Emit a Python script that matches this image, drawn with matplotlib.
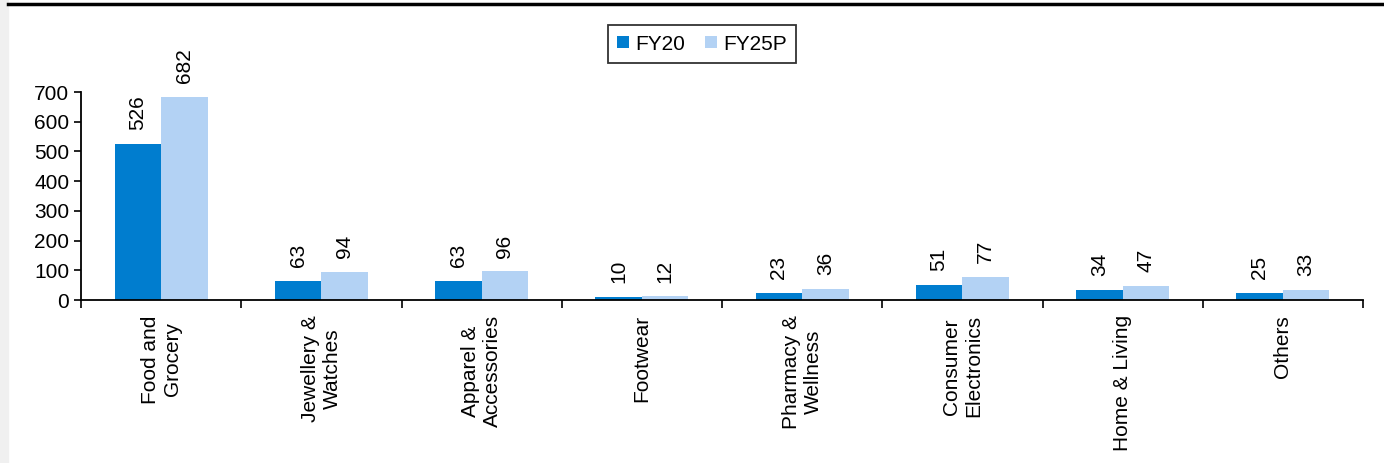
import matplotlib.pyplot as plt
import numpy as np
from matplotlib.lines import Line2D
from matplotlib.patches import Rectangle

plt.rcParams['font.family'] = ['Liberation Sans', 'DejaVu Sans']

categories = ['Food and\nGrocery', 'Jewellery &\nWatches', 'Apparel &\nAccessories', 'Footwear',
              'Pharmacy &\nWellness', 'Consumer\nElectronics', 'Home & Living', 'Others']
fy20 = [526, 63, 63, 10, 23, 51, 34, 25]
fy25p = [682, 94, 96, 12, 36, 77, 47, 33]
yticks = [0, 100, 200, 300, 400, 500, 600, 700]

dark = '#007DCF'
light = '#B3D2F4'
fs = 15

fig = plt.figure(figsize=(13.84, 4.63), dpi=100)
ax = fig.add_axes([81/1384, 1 - 300/463, (1363 - 81)/1384, 208/463])

x = np.arange(len(categories))
w = 0.29
b1 = ax.bar(x - w/2, fy20, w, color=dark, label='FY20')
b2 = ax.bar(x + w/2, fy25p, w, color=light, label='FY25P')

for bars, vals in [(b1, fy20), (b2, fy25p)]:
    for r, v in zip(bars, vals):
        ax.annotate(str(v), (r.get_x() + r.get_width()/2, v), xytext=(0, 10),
                    textcoords='offset points', rotation=90, ha='center', va='bottom',
                    fontsize=fs)

ax.set_xlim(-0.5, len(categories) - 0.5)
ax.set_ylim(0, 700)
ax.set_yticks(yticks)
ax.tick_params(axis='y', labelsize=fs, length=5, width=1.2, direction='out')
ax.set_xticks(x)
ax.set_xticklabels(categories, rotation=90, fontsize=fs, ha='center', va='top',
                   multialignment='center')
ax.tick_params(axis='x', which='major', length=0, pad=11)
ax.set_xticks(np.arange(len(categories) + 1) - 0.5, minor=True)
ax.tick_params(axis='x', which='minor', length=6, width=1.2, direction='out')

for s in ['top', 'right']:
    ax.spines[s].set_visible(False)
for s in ['left', 'bottom']:
    ax.spines[s].set_linewidth(1.3)

leg = fig.legend(loc='center', bbox_to_anchor=(702/1384, 1 - 44/463), ncol=2, fontsize=fs,
                 handlelength=0.55, handleheight=0.55, handletextpad=0.3, columnspacing=1.0,
                 frameon=True, fancybox=False, edgecolor='black', borderpad=0.45)
leg.get_frame().set_linewidth(1.3)

fig.add_artist(Rectangle((0, 0), 8/1384, 1, transform=fig.transFigure, color='#f0f0f0', zorder=0))
fig.add_artist(Line2D([8/1384, 1], [1 - 4/463, 1 - 4/463], transform=fig.transFigure,
                      color='black', linewidth=2.5))

fig.savefig('out.png', dpi=100)
